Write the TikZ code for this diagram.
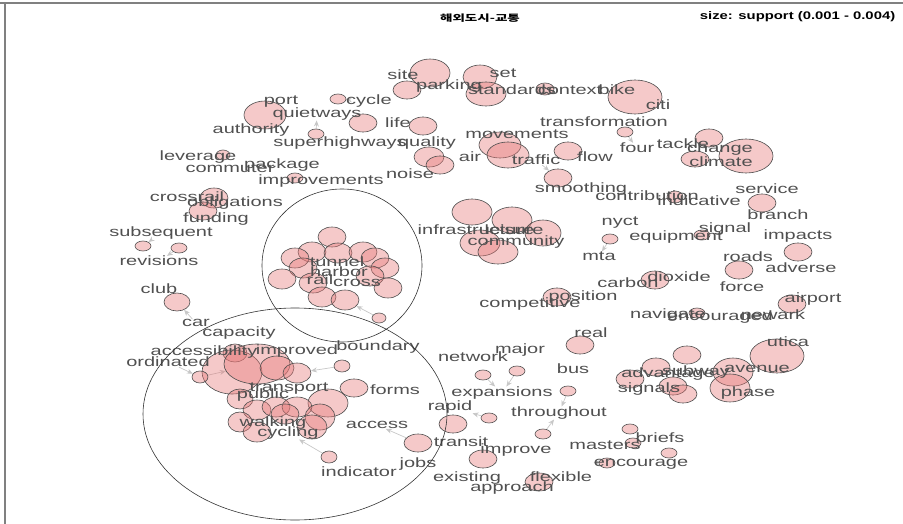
\documentclass[tikz,border=0pt]{standalone}
\usepackage{fontspec}
\setmainfont{Liberation Sans}
\newfontfamily\kfont{Noto Sans CJK KR}
\usetikzlibrary{shapes.geometric,arrows.meta,backgrounds}
\definecolor{bubfill}{RGB}{230,120,120}
\definecolor{labcol}{RGB}{80,80,80}
\tikzset{
  bub/.style={ellipse,draw=black!70,line width=.6pt,fill=bubfill,fill opacity=.4,draw opacity=1,inner sep=0pt},
  lab/.style={text=labcol,font=\fontsize{13.5}{13.5}\selectfont,xscale=1.48,inner sep=0pt},
  edge/.style={draw=black!22,line width=.7pt,-{Stealth[length=6pt,width=5pt]}},
  frame/.style={draw=black!50,line width=1.3pt},
  outline/.style={draw=black!80,line width=.6pt}
}
\begin{document}
\begin{tikzpicture}[x=1pt,y=-1pt]
\useasboundingbox (0,0) rectangle (903,524);
\draw[frame] (0,3) -- (903,3);
\draw[frame] (5,3) -- (5,524);
\node[font=\kfont\bfseries\fontsize{9}{9}\selectfont,xscale=1.5] (title) at (480,18) {해외도시-교통};
\node[font=\bfseries\fontsize{11}{11}\selectfont,xscale=1.35,anchor=east] (legend) at (900,17) {size: support (0.001 - 0.004)};
\foreach \n/\x/\y/\rx/\ry in {
  bSite/430/73/20/14, bPark/407/90/14/9, bCyc/338/99/8/5, bAuth/265/115/21/14,
  bQuiet/363/123/14/9, bSuper/316/134/8/5, bLife/423/126/14/9, bQualA/429/157/15/10,
  bQualB/440/165/14/9, bLev/223/155/7/5, bImpr/295/178/8/5, bCrossA/214/198/14/10,
  bCrossB/203/211/14/9,
  bSet/480/77/17/12, bStand/486/94/20/12, bCtx/545/89/9/6, bCiti/635/97/27/17,
  bTrans/625/132/8/5, bMoveA/500/145/21/13, bMoveB/508/155/21/13, bFlow/568/151/14/9,
  bSmooth/558/178/14/9, bTackle/709/138/14/9, bClimA/746/156/27/17, bClimB/695/159/14/8,
  bContr/675/197/8/6, bServ/762/203/14/9,
  bInfA/472/212/20/13, bInfB/512/220/20/13, bInfC/543/233/18/13, bInfD/480/243/20/13,
  bInfE/498/252/20/12, bNyct/610/239/8/5, bSignal/702/235/8/5, bImpacts/798/252/14/9,
  bRoads/739/270/14/9, bDiox/655/280/14/9, bPos/557/297/14/9, bAirport/792/304/14/9,
  bNav/697/313/8/5, bReal/580/345/14/9, bUtica/777/356/27/17,
  bSubs/143/246/8/5, bRev/179/248/8/5, bClub/177/302/13/9,
  hA/332/237/14/10, hB/312/252/14/10, hC/338/253/14/10, hD/363/252/14/10,
  hE/295/258/14/10, hF/375/258/14/10, hG/303/268/14/10, hH/385/268/14/10,
  hI/282/279/14/10, hJ/313/283/14/10, hK/370/276/14/10, hL/388/288/14/10,
  hM/322/297/14/10, hN/345/300/14/10, hSmall/379/318/7/5,
  cA/235/353/12/9, cB/232/372/30/22, cC/257/364/33/20, bOrd/200/377/8/6,
  cD/277/368/17/12, cE/297/373/14/10, bBound/342/366/8/6, bForms/354/388/14/9,
  cF/328/403/20/14, cG/240/399/13/10, cH/257/410/14/10, cI/276/407/14/10,
  cJ/297/407/15/10, cK/285/414/14/10, cL/320/417/15/13, cM/312/427/15/12,
  cN/240/422/12/10, cO/257/432/14/10, bInd/329/457/8/6,
  bJobs/418/443/14/9, bNet/483/375/8/5, bMajor/517/371/8/5, bBus/568/391/8/5,
  bRapid/453/424/14/9, bSmA/489/418/8/5, bThru/543/434/8/5, bImprove/483/459/14/9,
  bFlex/539/482/14/9, bBriefs/630/429/8/5, bMasters/633/443/8/5, bSmB/669/453/8/5,
  bEnc/607/463/8/5,
  sA/630/379/14/9, sB/656/367/14/9, sC/687/355/14/9, sD/673/386/14/9,
  sE/683/394/14/9, bAveA/733/372/20/14, bAveB/730/388/20/14}
  \node[bub,minimum width=\rx*2pt,minimum height=\ry*2pt] (\n) at (\x,\y) {};
\foreach \n/\x/\y in {
  site/403/75, set/503/73, parking/449/86, standards/512/90, context/570/90,
  bike/617/90, citi/658/105, cycle/369/101, port/281/102, quietways/317/114,
  authority/251/130, life/398/123, superhighways/340/143, quality/427/143,
  transformation/604/122, movements/517/134, four/637/148, tackle/683/144,
  change/720/149, climate/721/162, air/470/157, traffic/536/160, flow/595/157,
  leverage/198/157, commuter/230/168, package/282/165, noise/410/174,
  improvements/321/181, smoothing/581/189, contribution/647/196, indicative/699/201,
  service/767/189, branch/778/215, crossrail/187/197, obligations/235/203,
  funding/216/219, subsequent/161/233, revisions/159/261, club/159/289, car/196/323,
  infrastructure/476/230, leisure/514/230, community/516/242, nyct/620/223,
  equipment/676/237, signal/725/229, impacts/798/236, mta/599/256, roads/748/257,
  adverse/801/268, carbon/628/283, dioxide/679/277, force/742/287, position/583/297,
  competitive/530/304, airport/813/299, navigate/668/315, encouraged/720/317,
  newark/773/315, real/591/333, utica/788/342, tunnel/337/262, harbor/339/272,
  rail/320/280, cross/357/283, capacity/239/333, accessibility/204/352,
  improved/297/351, boundary/378/347, ordinated/168/362, transport/289/389,
  forms/395/390, public/263/395, walking/273/423, cycling/288/433, access/377/425,
  indicator/359/472, jobs/418/464, major/520/350, network/473/357, bus/573/369,
  expansions/502/393, rapid/450/407, throughout/559/413, transit/461/442,
  improve/516/450, existing/467/478, approach/512/488, flexible/561/477,
  masters/605/445, briefs/660/438, encourage/641/464, advantage/668/374,
  subway/696/372, avenue/757/369, signals/649/389, phase/748/393}
  \node[lab] (\n) at (\x,\y) {\n};
\begin{scope}[on background layer]
\draw[edge] (car) -- (bClub);
\draw[edge] (subsequent) -- (bSubs);
\draw[edge] (bRev) -- (revisions);
\draw[edge] (ordinated) -- (bOrd);
\draw[edge] (bOrd) -- (cC);
\draw[edge] (bBound) -- (cE);
\draw[edge] (hSmall) -- (hN);
\draw[edge] (bInd) -- (cycling);
\draw[edge] (bJobs) -- (access);
\draw[edge] (bNet) -- (expansions);
\draw[edge] (bMajor) -- (expansions);
\draw[edge] (bBus) -- (throughout);
\draw[edge] (bThru) -- (throughout);
\draw[edge] (bSmA) -- (rapid);
\draw[edge] (bTrans) -- (four);
\draw[edge] (bNyct) -- (mta);
\draw[edge] (traffic) -- (bSmooth);
\draw[edge] (bSuper) -- (quietways);
\draw[edge] (bCyc) -- (cycle);
\draw[edge] (bEnc) -- (encourage);
\end{scope}
\draw[outline] (342,265.5) ellipse [x radius=80, y radius=76.5];
\draw[outline] (295,414) ellipse [x radius=152, y radius=106];
\end{tikzpicture}
\end{document}
